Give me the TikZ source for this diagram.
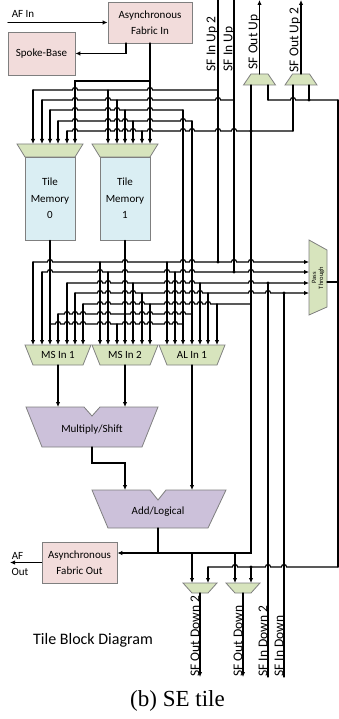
\documentclass[tikz,border=0pt]{standalone}
\usepackage{fontspec}
\setmainfont{Carlito}
\newfontfamily\capfont{Liberation Serif}
\usepackage{tikz}
\usetikzlibrary{arrows.meta}

\definecolor{pinkbox}{HTML}{F2DCDB}
\definecolor{bluebox}{HTML}{DAEEF3}
\definecolor{muxgreen}{HTML}{D7E4BD}
\definecolor{alupurple}{HTML}{CCC1DA}
\definecolor{edgegray}{HTML}{7F7F7F}

\tikzset{
  wire/.style={line width=1.1pt,line cap=round},
  arr/.style={wire,-{Latex[length=5pt,width=4.5pt]}},
  blk/.style={draw=edgegray,line width=0.8pt,align=center,inner sep=0pt,
    font=\fontsize{11}{16}\selectfont},
  shp/.style={draw=edgegray,line width=0.8pt},
  lbl/.style={font=\fontsize{11}{13}\selectfont,inner sep=0pt},
  vlbl/.style={font=\fontsize{13.5}{15}\selectfont,rotate=90,inner sep=0pt},
}
% horizontal wire at height #2 from #3 to #5, jumping over the verticals in #4
\newcommand\hopwire[5][]{%
  \draw[wire,#1] (#3,#2) \foreach \h in {#4}{ -- (\h-2.6,#2) arc[start angle=180,end angle=0,radius=2.6pt] } -- (#5,#2);}
% mux: name, x, y, half top, half bottom, half height, text
\newcommand\muxbox[7]{%
  \filldraw[shp,fill=muxgreen] (#2-#4,#3-#6) -- (#2+#4,#3-#6) -- (#2+#5,#3+#6) -- (#2-#5,#3+#6) -- cycle;
  \node[lbl] (#1) at (#2,#3) {#7};}
\newcommand\jdot[2]{\fill (#1,#2) circle[radius=1.7pt];}

\begin{document}
\begin{tikzpicture}[x=1pt,y=-1pt]
\useasboundingbox (0,0) rectangle (339,719);

% blocks
\node[blk,fill=pinkbox,minimum width=84pt,minimum height=41pt] (afi) at (150,22.5) {Asynchronous\\Fabric In};
\node[blk,fill=pinkbox,minimum width=67pt,minimum height=43pt] (spoke) at (41.5,53.5) {Spoke-Base};
\node[blk,fill=bluebox,minimum width=50pt,minimum height=83pt,font=\fontsize{11}{16.5}\selectfont] (tm0) at (50,198.5) {Tile\\Memory\\0};
\node[blk,fill=bluebox,minimum width=50pt,minimum height=83pt,font=\fontsize{11}{16.5}\selectfont] (tm1) at (125,198.5) {Tile\\Memory\\1};
\node[blk,fill=pinkbox,minimum width=75pt,minimum height=41pt] (afo) at (79.5,562.5) {Asynchronous\\Fabric Out};

\muxbox{tm0mux}{50}{150.5}{33}{25}{6.5}{}
\muxbox{tm1mux}{125}{150.5}{33}{25}{6.5}{}
\muxbox{msin1}{58}{355}{33}{25}{10}{MS In 1}
\muxbox{msin2}{125}{355}{33}{25}{10}{MS In 2}
\muxbox{alin1}{192}{355}{33}{25}{10}{AL In 1}
\muxbox{sfoutup}{259.5}{79.5}{8.5}{16}{5.5}{}
\muxbox{sfoutupb}{301}{79.5}{8.5}{16}{5.5}{}
\muxbox{sfoutdnb}{200}{588}{17}{8}{5}{}
\muxbox{sfoutdn}{243}{588}{17}{8}{5}{}

\filldraw[shp,fill=muxgreen] (309,240) -- (327,250) -- (327,307) -- (309,315) -- cycle;
\node[rotate=90,align=center,inner sep=0pt,font=\fontsize{6.5}{7}\selectfont] (pass) at (318,278) {Pass\\Through};

\filldraw[shp,fill=alupurple] (26,407) -- (84,407) -- (92,416) -- (100,407) -- (158,407) -- (142,447) -- (42,447) -- cycle;
\node[lbl] (mulsh) at (92,430) {Multiply/Shift};
\filldraw[shp,fill=alupurple] (92,490) -- (150,490) -- (158,500) -- (166,490) -- (226,490) -- (208,528) -- (108,528) -- cycle;
\node[lbl] (alu) at (158,512) {Add/Logical};

% inputs at the top
\node[lbl] (afin) at (23,14) {AF In};
\draw[arr] (8,22.5) -- (afi.west);
\draw[arr] (126,43) |- (spoke.east);
\draw[arr] (150,43) -- (150,144);
\draw[arr] (150,81) -| (75,144);

\draw[wire] (218,0) -- (218,262);
\draw[wire] (234,0) -- (234,272);
\node[vlbl] (sfinupb) at (212,44) {SF In Up 2};
\node[vlbl] (sfinup) at (229,49) {SF In Up};
\draw[arr] (259.5,74) -- (259.5,0);
\draw[arr] (301,74) -- (301,0);
\node[vlbl] (sfoutuplbl) at (254,42) {SF Out Up};
\node[vlbl] (sfoutupblbl) at (295,40) {SF Out Up 2};

% buses into the tile memories
\hopwire{90}{33}{75,150}{218}
\hopwire{100}{42}{75,108,150,218}{234}
\hopwire{110}{50}{75,108,117,150}{183}
\hopwire{121}{58}{75,108,117,125,150,183}{192}
\hopwire{131}{67}{75,108,117,125,133,150,183,192,218,234}{293}
\foreach \x/\y in {33/90,42/100,50/110,58/121,67/131,108/90,117/100,125/110,133/121,142/131}
  \draw[arr] (\x,\y) -- (\x,144);
\jdot{251}{131}

% feeds of the SF Out Up muxes and the pass through
\draw[wire] (251,85) -- (251,553) -- (158,553);
\draw[wire] (293,85) -- (293,131);
\draw[wire] (268,85) -- (268,100);
\hopwire{100}{268}{293}{338}
\draw[wire] (309,85) -- (309,100);
\jdot{309}{100}
\draw[wire] (338,100) -- (338,567);
\draw[wire] (327,282) -- (338,282);

% buses into the operand muxes
\hopwire[arr]{262}{33}{50,125,183,192,234,251}{309}
\hopwire[arr]{272}{42}{50,100,125,167,183,192,251}{309}
\hopwire[arr]{283}{67}{100,108,125,167,175,183,192,251}{309}
\hopwire[arr]{293}{75}{100,108,125,133,167,175,183,192,200,251,268}{309}
\hopwire{304}{83}{100,108,125,133,142,167,175,183,192,200,208}{251}
\hopwire{314}{58}{67,75,83,100,108,133,142,150,167,175,183}{192}
\hopwire{324}{50}{58,67,75,83,100,108,125,133,142,150,167,175}{183}
\jdot{218}{262}
\jdot{234}{272}
\jdot{268}{283}
\jdot{284}{293}
\foreach \x/\y in {33/262,42/272,58/314,67/283,75/293,83/304,100/262,108/272,117/324,133/283,142/293,150/304,167/262,175/272,200/283,208/293,217/304}
  \draw[arr] (\x,\y) -- (\x,345);
\draw[arr] (tm0.south) -- (50,345);
\draw[arr] (tm1.south) -- (125,345);
\draw[arr] (183,110) -- (183,345);
\draw[arr] (192,121) -- (192,345);

% datapath
\draw[arr] (58,365) -- (58,407);
\draw[arr] (125,365) -- (125,407);
\draw[arr] (192,365) -- (192,490);
\draw[arr] (92,447) -- (92,463) -| (125,490);
\draw[wire] (158,528) -- (158,553);
\draw[arr] (158,553) -- (afo.east |- 0,553);
\draw[arr] (afo.west) -- (10,562.5);
\node[lbl] (afoutA) at (17.5,556) {AF};
\node[lbl] (afoutB) at (20,571.5) {Out};

% outputs at the bottom
\draw[arr] (192,553) -- (192,583);
\draw[arr] (235,553) -- (235,583);
\hopwire{567}{208}{235,268,284}{338}
\jdot{251}{567}
\draw[arr] (208,567) -- (208,583);
\draw[arr] (251,567) -- (251,583);
\draw[arr] (200,593) -- (200,677);
\draw[arr] (243,593) -- (243,677);
\draw[wire] (268,677) -- (268,283);
\draw[wire] (284,677) -- (284,293);
\node[vlbl] (sfoutdnblbl) at (195,636) {SF Out Down 2};
\node[vlbl] (sfoutdnlbl) at (238,641) {SF Out Down};
\node[vlbl] (sfindnb) at (263,641) {SF In Down 2};
\node[vlbl] (sfindn) at (279,646) {SF In Down};

\node[font=\fontsize{16}{18}\selectfont] (title) at (93,640) {Tile Block Diagram};
\node[font=\capfont\fontsize{23}{26}\selectfont] (caption) at (177.5,701) {(b) SE tile};
\end{tikzpicture}
\end{document}
